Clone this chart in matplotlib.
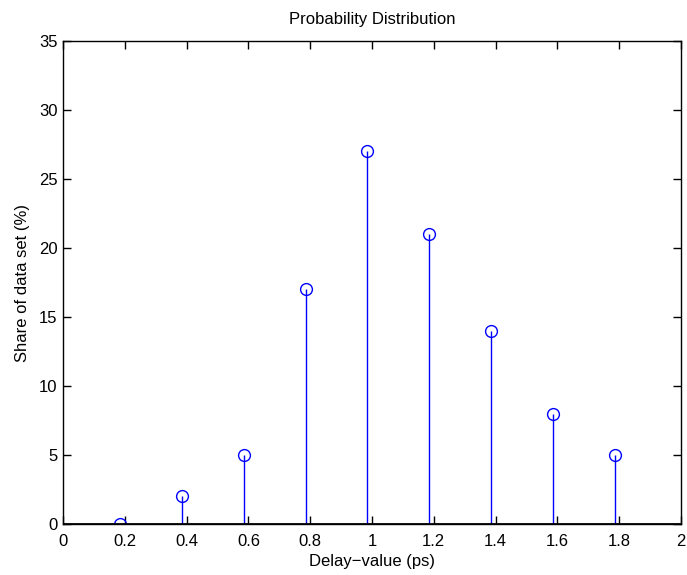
import numpy as np
import matplotlib
matplotlib.use("Agg")
import matplotlib.pyplot as plt

# Data
delay = [0.185, 0.385, 0.585, 0.785, 0.985, 1.185, 1.385, 1.585, 1.785]
share = [0, 2, 5, 17, 27, 21, 14, 8, 5]

plt.rcParams['font.family'] = ['Liberation Sans', 'DejaVu Sans']
plt.rcParams['font.size'] = 12

fig = plt.figure(figsize=(6.87, 5.75), dpi=100)
ax = fig.add_axes([63/687, 51/575, 618/687, 483/575])

ax.vlines(delay, 0, share, color='#0000ff', linewidth=1)
ax.plot(delay, share, 'o', markerfacecolor='none', markeredgecolor='#0000ff',
        markersize=8.5, markeredgewidth=1)
ax.axhline(0, color='black', linewidth=2)

ax.set_xlim(0, 2)
ax.set_ylim(0, 35)
ax.set_xticks(np.arange(0, 2.01, 0.2))
ax.set_xticklabels(['0', '0.2', '0.4', '0.6', '0.8', '1', '1.2', '1.4', '1.6', '1.8', '2'])
ax.set_yticks(np.arange(0, 36, 5))

ax.tick_params(direction='in', top=True, right=True, length=6, width=1, pad=4)
ax.tick_params(axis='x', pad=7.5)
for s in ax.spines.values():
    s.set_linewidth(1)

ax.set_title("Probability Distribution", fontsize=12, pad=12.5)
ax.set_xlabel("Delay\u2212value (ps)", labelpad=3.5)
ax.set_ylabel("Share of data set (%)", labelpad=6.5)

fig.savefig("out.png", dpi=100)
